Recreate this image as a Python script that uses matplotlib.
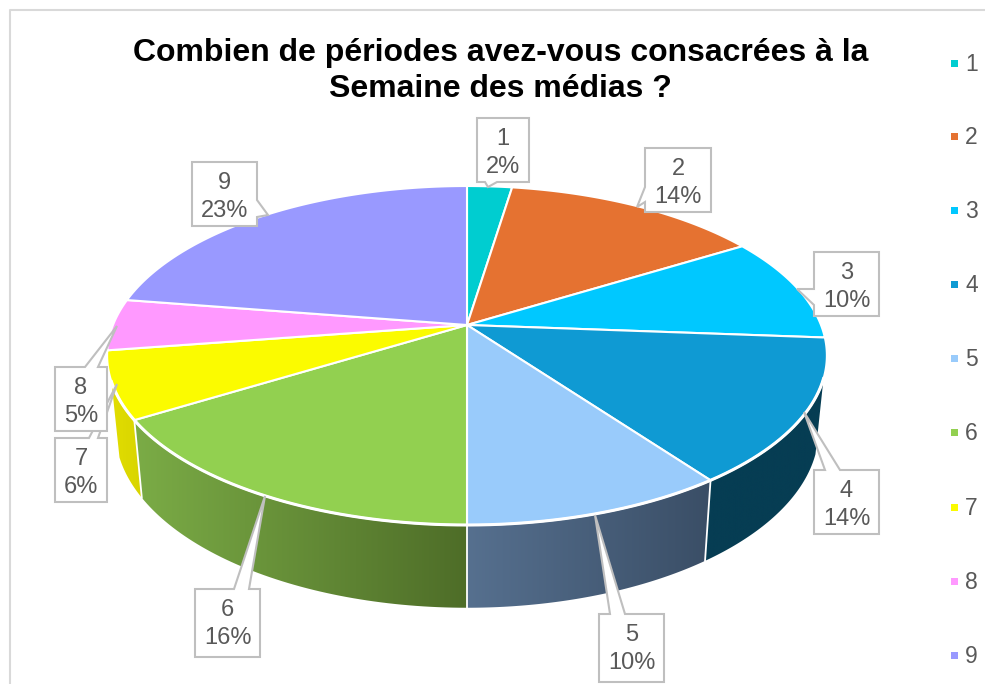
import numpy as np
import matplotlib
matplotlib.use('Agg')
import matplotlib.pyplot as plt
from matplotlib.colors import LinearSegmentedColormap
from matplotlib.patches import Polygon, Rectangle

plt.rcParams['font.family'] = ['Liberation Sans', 'DejaVu Sans']

categories = ['1', '2', '3', '4', '5', '6', '7', '8', '9']
values = [2.4, 13.8, 10.0, 13.8, 10.0, 16.2, 6.4, 4.9, 22.5]
pct_labels = ['2%', '14%', '10%', '14%', '10%', '16%', '6%', '5%', '23%']
colors = ['#00CDD0', '#E57231', '#00C8FF', '#0F9AD3', '#99CBFB',
          '#92D050', '#FBFB00', '#FF99FF', '#9999FF']
title_lines = ['Combien de périodes avez-vous consacrées à la', 'Semaine des médias ?']

# callouts: box (x0, y0, x1, y1), then pointer base and tip, in pixels
boxes = [(477, 118, 529, 182), (645, 148, 711, 212), (814, 252, 879, 316),
         (814, 470, 879, 534), (599, 614, 664, 682), (195, 589, 260, 657),
         (55, 438, 107, 502), (55, 367, 107, 431), (192, 162, 257, 226)]
pointers = [('bottom', 485, 497, 488, 187), ('left', 187, 202, 637, 207),
            ('left', 289, 305, 797, 289), ('top', 825, 840, 804, 412),
            ('top', 610, 625, 595, 515), ('top', 234, 249, 265, 496),
            ('top', 89, 98, 117, 384), ('top', 85, 98, 117, 326),
            ('right', 200, 217, 268, 215)]
legend_y = [63, 136, 210, 284, 358, 432, 507, 581, 655]

# side colours: left to right gradient
side_colors = {3: ('#063D53', '#063D53'), 4: ('#56708F', '#3A4E66'),
               5: ('#7BAC46', '#4E6D28'), 6: ('#E2DE00', '#D8D400')}

# perspective mapping of the disc, theta measured clockwise from the top
KEYS = 0.18


def rim(theta, cy, a, b):
    t = np.radians(theta)
    x, y = np.sin(t), np.cos(t)
    d = 1 + KEYS * y
    return 467 + b * x / d, cy - a * y / d


def top(theta):
    return rim(theta, 325, 164, 354)


def bottom(theta):
    return rim(theta, 398, 172, 346)


fig = plt.figure(figsize=(9.85, 6.84), dpi=100, facecolor='white')
ax = fig.add_axes([0, 0, 1, 1])
ax.set_xlim(0, 985)
ax.set_ylim(684, 0)
ax.axis('off')

# chart frame
ax.plot([10, 10, 985], [684, 10, 10], color='#D9D9D9', lw=1.5, zorder=1)

edges = np.concatenate([[0], np.cumsum(values)]) / np.sum(values) * 360
side_from, side_to = 108, 251

# outer side of the pie
for i, (c0, c1) in side_colors.items():
    t0 = max(edges[i], side_from)
    t1 = min(edges[i + 1], side_to)
    th = np.linspace(t0, t1, 60)
    xt, yt = top(th)
    xb, yb = bottom(th)
    xs = np.concatenate([xt, xb[::-1]])
    ys = np.concatenate([yt, yb[::-1]])
    poly = Polygon(np.column_stack([xs, ys]), closed=True, fc='none', ec='none', zorder=2)
    ax.add_patch(poly)
    cmap = LinearSegmentedColormap.from_list('side', [c0, c1])
    im = ax.imshow(np.linspace(0, 1, 256).reshape(1, -1), cmap=cmap, aspect='auto',
                   extent=(xs.min(), xs.max(), ys.max(), ys.min()), zorder=2)
    im.set_clip_path(poly)
    if edges[i] >= side_from:
        ax.plot([xt[0], xb[0]], [yt[0], yb[0]], color='white', lw=1.3, zorder=3)
ax.set_xlim(0, 985)
ax.set_ylim(684, 0)

# top face
for i, c in enumerate(colors):
    th = np.linspace(edges[i], edges[i + 1], 80)
    x, y = top(th)
    ax.fill(np.concatenate([[467], x]), np.concatenate([[325], y]), fc=c, ec='white',
            lw=1.5, joinstyle='round', zorder=4)

# white rim where the top meets the side
xr, yr = top(np.linspace(side_from, side_to, 200))
ax.plot(xr, yr, color='white', lw=2.2, zorder=4)

# callouts
for cat, pct, box, ptr in zip(categories, pct_labels, boxes, pointers):
    x0, y0, x1, y1 = box
    side, p0, p1, tx, ty = ptr
    if side == 'top':
        pts = [(x0, y0), (p0, y0), (tx, ty), (p1, y0), (x1, y0), (x1, y1), (x0, y1)]
    elif side == 'bottom':
        pts = [(x0, y0), (x1, y0), (x1, y1), (p1, y1), (tx, ty), (p0, y1), (x0, y1)]
    elif side == 'left':
        pts = [(x0, y0), (x1, y0), (x1, y1), (x0, y1), (x0, p1), (tx, ty), (x0, p0)]
    else:
        pts = [(x0, y0), (x1, y0), (x1, p0), (tx, ty), (x1, p1), (x1, y1), (x0, y1)]
    ax.add_patch(Polygon(pts, closed=True, fc='white', ec='#BFBFBF', lw=1.5, zorder=5))
    xc = (x0 + x1) / 2
    ax.text(xc, y0 + 27, cat, ha='center', va='baseline', fontsize=17, color='#595959', zorder=6)
    ax.text(xc, y0 + 55, pct, ha='center', va='baseline', fontsize=17, color='#595959', zorder=6)

# title
ax.text(501, 61, title_lines[0], ha='center', va='baseline', fontsize=23,
        fontweight='bold', color='black', zorder=6)
ax.text(500, 97, title_lines[1], ha='center', va='baseline', fontsize=23,
        fontweight='bold', color='black', zorder=6)

# legend
for cat, c, ly in zip(categories, colors, legend_y):
    ax.add_patch(Rectangle((951, ly - 3.5), 7, 7, fc=c, ec='none', zorder=6))
    ax.text(965, ly + 8, cat, ha='left', va='baseline', fontsize=16.5, color='#595959', zorder=6)

fig.savefig('out.png', dpi=100)
